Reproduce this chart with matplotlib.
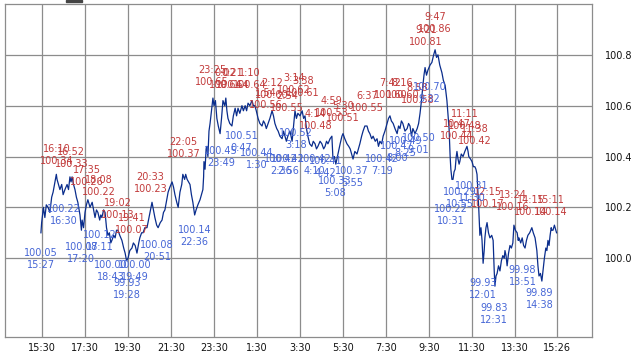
import matplotlib
matplotlib.use("Agg")
import matplotlib.pyplot as plt
from matplotlib.patches import Rectangle

# ---- data ----
line_times = [
"15:27","15:29","15:34","15:38","15:42","15:47","15:52","15:57","16:01","16:06",
"16:10","16:12","16:16","16:20","16:25","16:29","16:34","16:40","16:44","16:48",
"16:51","16:54","16:58","17:02","17:06","17:10","17:16","17:20","17:22","17:26",
"17:30","17:34","17:38","17:44","17:50","17:54","17:58","18:02","18:06","18:11",
"18:14","18:17","18:22","18:26","18:30","18:34","18:38","18:42","18:45","18:50",
"18:54","18:58","19:02","19:07","19:13","19:18","19:22","19:26","19:30","19:35",
"19:41","19:45","19:50","19:55","20:00","20:03","20:08","20:12","20:17","20:23",
"20:30","20:37","20:41","20:45","20:50","20:54","21:00","21:05","21:09","21:13",
"21:18","21:22","21:27","21:33","21:37","21:41","21:46","21:50","21:55","22:00",
"22:03","22:08","22:11","22:15","22:19","22:23","22:27","22:31","22:36","22:40",
"22:45","22:51","22:55","22:59","23:01","23:02","23:05","23:08","23:10","23:13",
"23:16","23:19","23:23","23:27","23:30","23:34","23:38","23:42","23:47","23:51",
"23:55","0:00","0:03","0:06","0:09","0:14","0:20","0:24","0:29","0:33",
"0:37","0:42","0:48","0:52","0:57","1:01","1:05","1:10","1:16","1:20",
"1:24","1:28","1:33","1:38","1:44","1:48","1:52","1:56","2:01","2:06",
"2:12","2:16","2:20","2:25","2:29","2:34","2:40","2:44","2:48","2:52",
"2:56","3:02","3:08","3:12","3:16","3:20","3:24","3:30","3:36","3:40",
"3:44","3:48","3:52","3:57","4:03","4:07","4:12","4:16","4:20","4:26",
"4:31","4:36","4:40","4:44","4:48","4:54","4:59","5:02","5:06","5:10",
"5:13","5:16","5:22","5:27","5:30","5:35","5:41","5:46","5:50","5:54",
"5:58","6:03","6:09","6:13","6:17","6:22","6:26","6:31","6:37","6:41",
"6:45","6:50","6:54","7:00","7:05","7:09","7:13","7:18","7:22","7:27",
"7:33","7:37","7:41","7:45","7:50","7:55","8:01","8:05","8:09","8:13",
"8:17","8:23","8:29","8:33","8:37","8:41","8:45","8:51","8:57","9:01",
"9:05","9:09","9:13","9:16","9:19","9:23","9:27","9:33","9:38","9:43",
"9:47","9:51","9:55","10:00","10:06","10:10","10:15","10:20","10:24","10:26",
"10:29","10:31","10:34","10:37","10:40","10:43","10:46","10:48","10:51","10:54",
"10:56","11:00","11:05","11:10","11:16","11:19","11:21","11:26","11:30","11:34",
"11:38","11:41","11:44","11:47","11:49","11:52","11:55","11:58","12:01","12:04",
"12:06","12:09","12:12","12:16","12:20","12:25","12:29","12:32","12:34","12:37",
"12:40","12:44","12:48","12:52","12:56","13:00","13:02","13:05","13:08","13:12",
"13:16","13:20","13:24","13:27","13:31","13:36","13:39","13:41","13:46","13:50",
"13:54","13:58","14:02","14:06","14:11","14:17","14:21","14:26","14:29","14:31",
"14:34","14:37","14:41","14:45","14:48","14:52","14:56","14:59","15:02","15:05",
"15:08","15:11","15:13","15:16","15:20","15:24","15:26"]
line_values = [
100.10,100.14,100.20,100.16,100.21,100.20,100.18,100.24,100.26,100.30,
100.33,100.31,100.29,100.27,100.29,100.25,100.27,100.29,100.27,100.32,
100.30,100.32,100.29,100.27,100.24,100.22,100.17,100.11,100.15,100.12,
100.18,100.21,100.23,100.20,100.22,100.19,100.16,100.19,100.18,100.15,
100.17,100.16,100.19,100.18,100.12,100.09,100.10,100.06,100.07,100.09,
100.08,100.11,100.11,100.09,100.07,100.04,100.02,99.99,100.00,100.03,
100.04,100.06,100.05,100.02,100.06,100.08,100.10,100.10,100.12,100.12,
100.17,100.22,100.19,100.16,100.13,100.12,100.14,100.15,100.18,100.19,
100.23,100.26,100.28,100.30,100.28,100.25,100.22,100.20,100.26,100.29,
100.33,100.31,100.33,100.31,100.30,100.29,100.25,100.22,100.17,100.19,
100.21,100.23,100.25,100.27,100.32,100.38,100.35,100.43,100.44,100.40,
100.50,100.53,100.58,100.63,100.60,100.62,100.55,100.52,100.49,100.55,
100.62,100.60,100.63,100.58,100.55,100.53,100.52,100.56,100.59,100.56,
100.59,100.57,100.60,100.58,100.60,100.58,100.61,100.60,100.62,100.60,
100.60,100.58,100.55,100.53,100.52,100.54,100.53,100.51,100.53,100.55,
100.58,100.56,100.53,100.51,100.50,100.48,100.47,100.50,100.48,100.46,
100.48,100.50,100.46,100.52,100.58,100.55,100.57,100.56,100.58,100.55,
100.56,100.51,100.48,100.45,100.44,100.46,100.45,100.43,100.44,100.46,
100.45,100.43,100.44,100.46,100.45,100.47,100.48,100.39,100.40,100.37,
100.39,100.41,100.45,100.48,100.49,100.47,100.45,100.44,100.43,100.41,
100.39,100.42,100.41,100.43,100.45,100.48,100.50,100.52,100.52,100.50,
100.49,100.47,100.48,100.46,100.47,100.44,100.46,100.45,100.48,100.50,
100.53,100.55,100.56,100.54,100.53,100.51,100.49,100.52,100.51,100.54,
100.53,100.50,100.51,100.53,100.52,100.48,100.51,100.49,100.51,100.53,
100.57,100.62,100.68,100.72,100.75,100.72,100.74,100.76,100.77,100.80,
100.82,100.79,100.80,100.76,100.73,100.70,100.68,100.62,100.55,100.51,
100.40,100.35,100.31,100.31,100.34,100.35,100.40,100.42,100.39,100.37,
100.38,100.41,100.40,100.42,100.44,100.42,100.40,100.39,100.38,100.36,
100.36,100.35,100.33,100.25,100.19,100.09,100.12,100.07,99.98,100.03,
100.08,100.12,100.14,100.10,100.08,100.09,100.07,99.95,99.89,99.93,
99.94,99.97,99.95,99.99,100.01,100.00,100.03,100.01,99.97,100.02,
100.05,100.04,100.06,100.13,100.11,100.10,100.07,100.08,100.06,100.08,
100.05,100.04,100.07,100.09,100.10,100.12,100.10,100.08,100.05,100.03,
99.97,99.93,99.94,99.91,99.95,100.00,100.04,100.03,100.07,100.05,
100.09,100.12,100.11,100.11,100.13,100.11,100.10]

high_times = ["16:10","16:52","17:35","18:08","19:02","19:41","20:33","22:05","23:25","0:02",
"0:21","1:10","1:54","2:12","2:54","3:14","3:38","4:14","4:59","5:30",
"6:37","7:42","8:16","8:58","9:21","9:47","10:47","11:11","11:38","12:15",
"13:24","14:15","15:11"]
high_values = [100.34,100.33,100.26,100.22,100.13,100.07,100.23,100.37,100.65,100.64,
100.64,100.64,100.56,100.60,100.55,100.62,100.61,100.48,100.53,100.51,
100.55,100.60,100.60,100.58,100.81,100.86,100.44,100.48,100.42,100.17,
100.16,100.14,100.14]

low_times = ["15:27","16:30","17:20","18:11","18:43","19:28","19:49","20:51","22:36","23:49",
"0:47","1:30","2:36","2:56","3:18","4:10","4:42","5:08","5:55","7:19",
"8:00","8:25","9:01","9:32","10:31","10:55","11:30","12:01","12:31","13:51",
"14:38"]
low_values = [100.05,100.22,100.07,100.12,100.00,99.93,100.00,100.08,100.14,100.45,
100.51,100.44,100.42,100.42,100.52,100.42,100.41,100.33,100.37,100.42,
100.47,100.49,100.50,100.70,100.22,100.29,100.31,99.93,99.83,99.98,
99.89]

xtick_labels = ["15:30","17:30","19:30","21:30","23:30","1:30","3:30","5:30",
                "7:30","9:30","11:30","13:30","15:26"]
ytick_values = [100.0, 100.2, 100.4, 100.6, 100.8]

assert len(line_times) == len(line_values)


def to_hours(times):
    """clock strings -> hours since 15:30 on day one (sequential, day roll-over)"""
    out, day, prev = [], 0, None
    for s in times:
        h, m = map(int, s.split(":"))
        mins = h * 60 + m
        if prev is not None and mins < prev:
            day += 1
        prev = mins
        out.append((day * 1440 + mins - (15 * 60 + 30)) / 60.0)
    return out


lx = to_hours(line_times)
hx = to_hours(high_times)
bx = to_hours(low_times)
tick_x = to_hours(xtick_labels)

fig = plt.figure(figsize=(6.36, 3.52), dpi=100)
ax = fig.add_axes([5 / 636, 1 - 337 / 352, 587 / 636, 333 / 352])

ax.plot(lx, line_values, color="#0a2d8c", lw=0.9, zorder=3)

red = "#c23b3b"
blue = "#4666d6"
for x, v, t in zip(hx, high_values, high_times):
    ax.annotate(f"{t}\n{v:.2f}", (x, v), xytext=(0, 4), textcoords="offset points",
                ha="center", va="bottom", fontsize=7, color=red, zorder=4,
                linespacing=1.25)
for x, v, t in zip(bx, low_values, low_times):
    ax.annotate(f"{v:.2f}\n{t}", (x, v), xytext=(0, -1.5), textcoords="offset points",
                ha="center", va="top", fontsize=7, color=blue, zorder=4,
                linespacing=1.25)

ax.set_xlim((5 - 42) / 21.5, (592 - 42) / 21.5)
ax.set_ylim(99.69, 101.0)
ax.set_xticks(tick_x)
ax.set_xticklabels(xtick_labels)
ax.yaxis.tick_right()
ax.set_yticks(ytick_values)
ax.set_yticklabels([f"{v:.1f}" for v in ytick_values])
ax.tick_params(axis="both", length=0, labelsize=7, colors="#111111")
ax.tick_params(axis="x", pad=4)
ax.tick_params(axis="y", pad=9)
ax.grid(True, color="#8c8c8c", lw=0.9)
ax.set_axisbelow(True)
for sp in ax.spines.values():
    sp.set_color("#8c8c8c")
    sp.set_linewidth(0.9)

fig.patches.append(Rectangle((66 / 636, 1 - 2 / 352), 16 / 636, 2 / 352,
                             transform=fig.transFigure, color="#444444"))

fig.savefig("out.png", dpi=100)
